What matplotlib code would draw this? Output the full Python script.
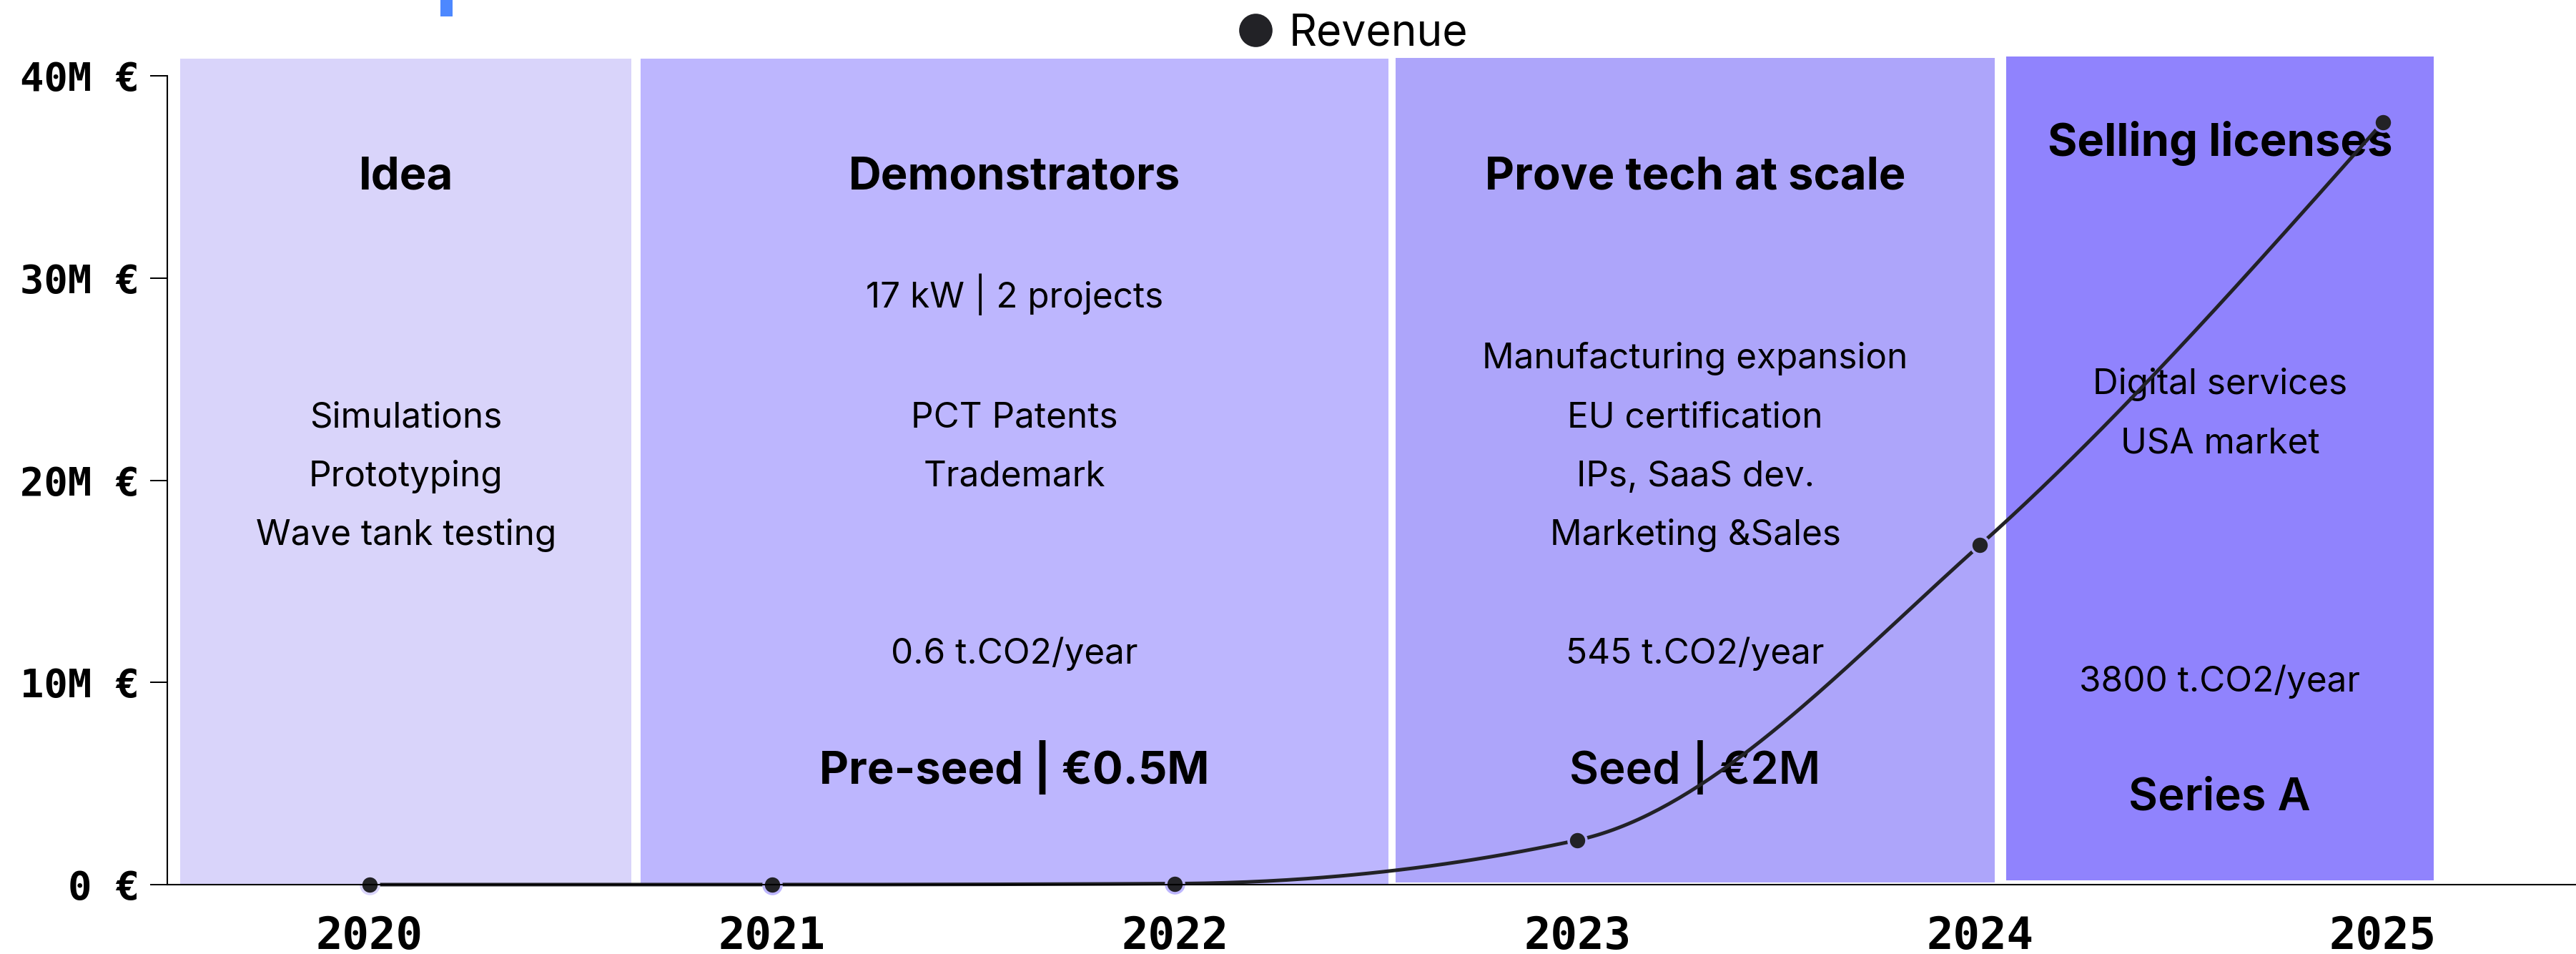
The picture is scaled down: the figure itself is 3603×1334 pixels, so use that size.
import numpy as np
import matplotlib.pyplot as plt
from matplotlib.patches import Rectangle
from matplotlib.lines import Line2D

# revenue per year, in millions of euros
years = ["2020", "2021", "2022", "2023", "2024", "2025"]
revenue_m = [0, 0, 0.05, 2.2, 16.8, 37.7]

y_ticks = [0, 10, 20, 30, 40]
y_tick_labels = ["0 €", "10M €", "20M €", "30M €", "40M €"]

# phase bands (x in year index units, y in M €)
phase_start = [-0.47, 0.673, 2.549, 4.065]
phase_end = [0.651, 2.531, 4.036, 5.126]
phase_bottom = [0.04, 0.04, 0.1, 0.2]
phase_top = [40.85, 40.85, 40.88, 40.96]
phase_colors = ["#D9D4FA", "#BDB6FE", "#ADA5FA", "#9083FD"]

phase_titles = ["Idea", "Demonstrators", "Prove tech at scale", "Selling licenses"]
phase_notes = [
    ["Simulations", "Prototyping", "Wave tank testing"],
    ["17 kW | 2 projects", "PCT Patents", "Trademark"],
    ["Manufacturing expansion", "EU certification", "IPs, SaaS dev.", "Marketing &Sales"],
    ["Digital services", "USA market"],
]
phase_co2 = [None, "0.6 t.CO2/year", "545 t.CO2/year", "3800 t.CO2/year"]
phase_funding = [None, "Pre-seed | €0.5M", "Seed | €2M", "Series A"]

# text baselines (M € units)
title_y = [34.38, 34.38, 34.38, 36.04]
notes_y = [
    [22.63, 19.70, 16.80],
    [28.54, 22.63, 19.70],
    [25.53, 22.63, 19.70, 16.80],
    [24.26, 21.33],
]
co2_y = [None, 10.93, 10.93, 9.55]
funding_y = [None, 4.97, 4.97, 3.68]
funding_weight = [None, "bold", "semibold", "semibold"]

SANS = ["Inter", "DejaVu Sans"]
MONO = ["DejaVu Sans Mono"]
LINE_COLOR = "#222226"


def monotone_curve(x, y, n=80):
    # monotone cubic (d3 curveMonotoneX style)
    x = np.asarray(x, float)
    y = np.asarray(y, float)
    h = np.diff(x)
    s = np.diff(y) / h
    m = np.zeros_like(y)
    for i in range(1, len(x) - 1):
        s0, s1 = s[i - 1], s[i]
        p = (s0 * h[i] + s1 * h[i - 1]) / (h[i - 1] + h[i])
        m[i] = (np.sign(s0) + np.sign(s1)) * min(abs(s0), abs(s1), 0.5 * abs(p))
    m[0] = (3 * s[0] - m[1]) / 2
    m[-1] = (3 * s[-1] - m[-2]) / 2
    xs, ys = [], []
    for i in range(len(x) - 1):
        t = np.linspace(0, 1, n)
        h00 = 2 * t**3 - 3 * t**2 + 1
        h10 = t**3 - 2 * t**2 + t
        h01 = -2 * t**3 + 3 * t**2
        h11 = t**3 - t**2
        xs.append(x[i] + t * h[i])
        ys.append(h00 * y[i] + h10 * h[i] * m[i] + h01 * y[i + 1] + h11 * h[i] * m[i + 1])
    return np.concatenate(xs), np.concatenate(ys)


W, H, DPI = 3603, 1334, 200
fig = plt.figure(figsize=(W / DPI, H / DPI), dpi=DPI)
ax = fig.add_axes([234 / W, (H - 1237) / H, 1 - 234 / W, (1237 - 106) / H])

x = np.arange(len(years))

# phase bands
for i in range(len(phase_titles)):
    ax.add_patch(Rectangle((phase_start[i], phase_bottom[i]),
                           phase_end[i] - phase_start[i],
                           phase_top[i] - phase_bottom[i],
                           facecolor=phase_colors[i], edgecolor="none",
                           zorder=1, clip_on=False))
    cx = (phase_start[i] + phase_end[i]) / 2
    ax.text(cx, title_y[i], phase_titles[i], ha="center", va="baseline",
            fontsize=22.8, fontweight="bold", family=SANS, zorder=2)
    for note, ny in zip(phase_notes[i], notes_y[i]):
        ax.text(cx, ny, note, ha="center", va="baseline",
                fontsize=17.8, family=SANS, zorder=2)
    if phase_co2[i]:
        ax.text(cx, co2_y[i], phase_co2[i], ha="center", va="baseline",
                fontsize=17.8, family=SANS, zorder=2)
    if phase_funding[i]:
        ax.text(cx, funding_y[i], phase_funding[i], ha="center", va="baseline",
                fontsize=22.8, fontweight=funding_weight[i], family=SANS, zorder=2)

# revenue line
cx_, cy_ = monotone_curve(x, revenue_m)
ax.plot(cx_, cy_, color=LINE_COLOR, lw=1.8, zorder=3, clip_on=False,
        solid_capstyle="butt")
for xi, yi in zip(x, revenue_m):
    edge = "white"
    for i in range(len(phase_start)):
        if phase_start[i] <= xi <= phase_end[i]:
            edge = phase_colors[i]
    ax.plot(xi, yi, marker="o", ms=9.0, mfc=LINE_COLOR, mec=edge, mew=1.3,
            zorder=4, clip_on=False)

ax.set_xlim(-0.502, 5.48)
ax.set_ylim(0, 40)
ax.set_xticks(x)
ax.set_xticklabels(years, family=MONO, fontweight="bold", fontsize=22.4)
ax.set_yticks(y_ticks)
ax.set_yticklabels(y_tick_labels, family=MONO, fontweight="bold", fontsize=20)
ax.tick_params(axis="x", length=0, pad=15.5)
ax.tick_params(axis="y", length=8.6, width=0.72, pad=5.4, color="black")
ax.set_facecolor("none")
for side in ["top", "right"]:
    ax.spines[side].set_visible(False)
for side in ["left", "bottom"]:
    ax.spines[side].set_linewidth(0.75)
    ax.spines[side].set_color("black")
    ax.spines[side].set_zorder(5)

# legend
fig.add_artist(Line2D([1756 / W], [1 - 42 / H], marker="o", ms=15.8,
                      color=LINE_COLOR, lw=0, transform=fig.transFigure))
fig.text(1803 / W, 1 - 64 / H, "Revenue", fontsize=21.8, family=SANS,
         va="baseline", ha="left")

# small blue mark at the top
fig.add_artist(Rectangle((616 / W, 1 - 23 / H), 17 / W, 23 / H,
                         transform=fig.transFigure, color="#4D88FF", lw=0))

fig.savefig("out.png", dpi=DPI)
